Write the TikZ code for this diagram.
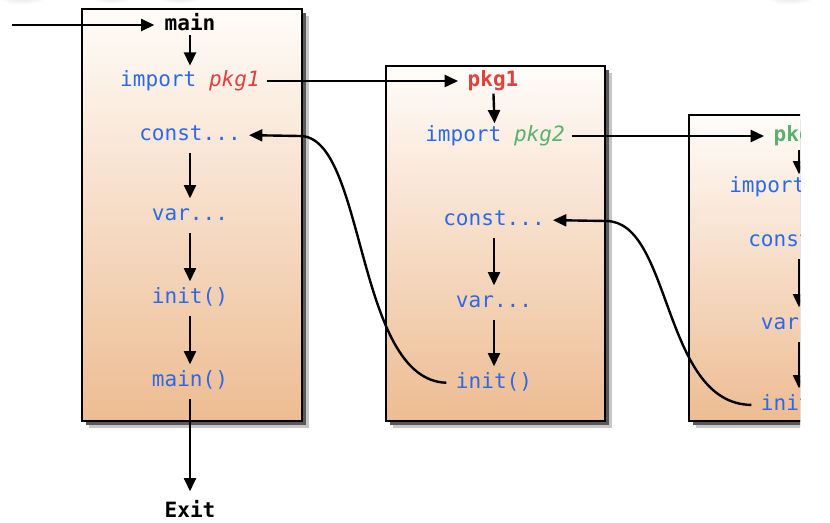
\documentclass[tikz,border=0pt]{standalone}
\usepackage{fontspec}
\newfontfamily\codefont{DejaVu Sans Mono}
\usetikzlibrary{arrows.meta}
\definecolor{kwblue}{RGB}{45,105,230}
\definecolor{pkred}{RGB}{226,64,60}
\definecolor{pkgreen}{RGB}{92,176,110}
\definecolor{pkpurple}{RGB}{150,80,190}
\definecolor{boxtop}{RGB}{255,252,249}
\definecolor{boxbot}{RGB}{237,188,146}
\tikzset{
  code/.style={font={\codefont\fontsize{15.8}{18}\selectfont}, text=kwblue,
    inner sep=0pt, text height=8.6pt, text depth=0pt},
  head/.style={code, font={\codefont\bfseries\fontsize{15.8}{18}\selectfont}, text=black},
  arr/.style={line width=1.8pt, -{Triangle[length=10pt,width=9pt]}},
  vstep/.style={arr, shorten <=9pt, shorten >=8pt},
  boxshade/.style={top color=boxtop, bottom color=boxbot, draw=black, line width=1.8pt},
  shadowdark/.style={fill=black!65},
  shadowlight/.style={fill=black!22},
  blob/.style={inner color=black!18, outer color=white}
}
\begin{document}
\begin{tikzpicture}[x=0.75pt,y=-0.75pt]
\useasboundingbox (0,0) rectangle (830,522);
% faint blobs at top
\shade[blob] (22,-9) ellipse (30 and 14);
\shade[blob] (112,-9) ellipse (26 and 13);
\shade[blob] (180,-9) ellipse (28 and 13);
\shade[blob] (790,-9) ellipse (30 and 14);
\begin{scope}
\clip (0,0) rectangle (800,522);
% boxes
\foreach \xa/\ya/\xb in {82/9/302, 386/66/605, 689/115/909}{
  \fill[shadowlight] (\xa+7,\ya+7) rectangle (\xb+7,428);
  \fill[shadowdark] (\xa+4,\ya+4) rectangle (\xb+4,425);
  \path[boxshade] (\xa,\ya) rectangle (\xb,421);
}
% box 1
\coordinate (in) at (12,25);
\node[head] (m1) at (190,25) {main};
\node[code] (imp1) at (190,81) {import \textcolor{pkred}{\itshape pkg1}};
\node[code] (c1) at (190,135) {const...};
\node[code] (v1) at (190,215) {var...};
\node[code] (i1) at (190,298) {init()};
\node[code] (mf1) at (190,381) {main()};
\node[head] (exit) at (190,512) {Exit};
% box 2
\node[head, text=pkred] (p1) at (493,81) {pkg1};
\node[code] (imp2) at (495,136) {import \textcolor{pkgreen}{\itshape pkg2}};
\node[code] (c2) at (494,220) {const...};
\node[code] (v2) at (494,302) {var...};
\node[code] (i2) at (494,383) {init()};
% box 3
\node[head, text=pkgreen] (p2) at (799,136) {pkg2};
\node[code] (imp3) at (799,187) {import \textcolor{pkpurple}{\itshape pkg3}};
\node[code] (c3) at (799,241) {const...};
\node[code] (v3) at (799,324) {var...};
\node[code] (i3) at (799,405) {init()};
% arrows box 1
\draw[arr, shorten >=7.5pt] (in) -- (m1);
\draw[arr, shorten <=3pt, shorten >=7pt] (m1) -- (imp1);
\draw[vstep] (c1) -- (v1);
\draw[vstep] (v1) -- (i1);
\draw[vstep] (i1) -- (mf1);
\draw[arr, shorten <=9pt, shorten >=11pt] (mf1) -- (exit);
% arrows box 2
\draw[arr, shorten <=5pt, shorten >=5pt] (p1) -- (imp2);
\draw[vstep] (c2) -- (v2);
\draw[vstep] (v2) -- (i2);
% arrows box 3
\draw[arr, shorten <=6pt, shorten >=5pt] (p2) -- (imp3);
\draw[vstep] (c3) -- (v3);
\draw[vstep] (v3) -- (i3);
% horizontal import arrows
\draw[arr, shorten <=5pt, shorten >=7pt] (imp1) -- (p1);
\draw[arr, shorten <=5pt, shorten >=7pt] (imp2) -- (p2);
% back curves
\draw[arr, shorten <=7pt, shorten >=6pt] (i2.west) .. controls (355,380) and (366,136) .. (300,136) -- (c1.east);
\draw[arr, shorten <=7pt, shorten >=6pt] (i3.west) .. controls (662,404) and (672,221) .. (606,221) -- (c2.east);
\end{scope}
\end{tikzpicture}
\end{document}
